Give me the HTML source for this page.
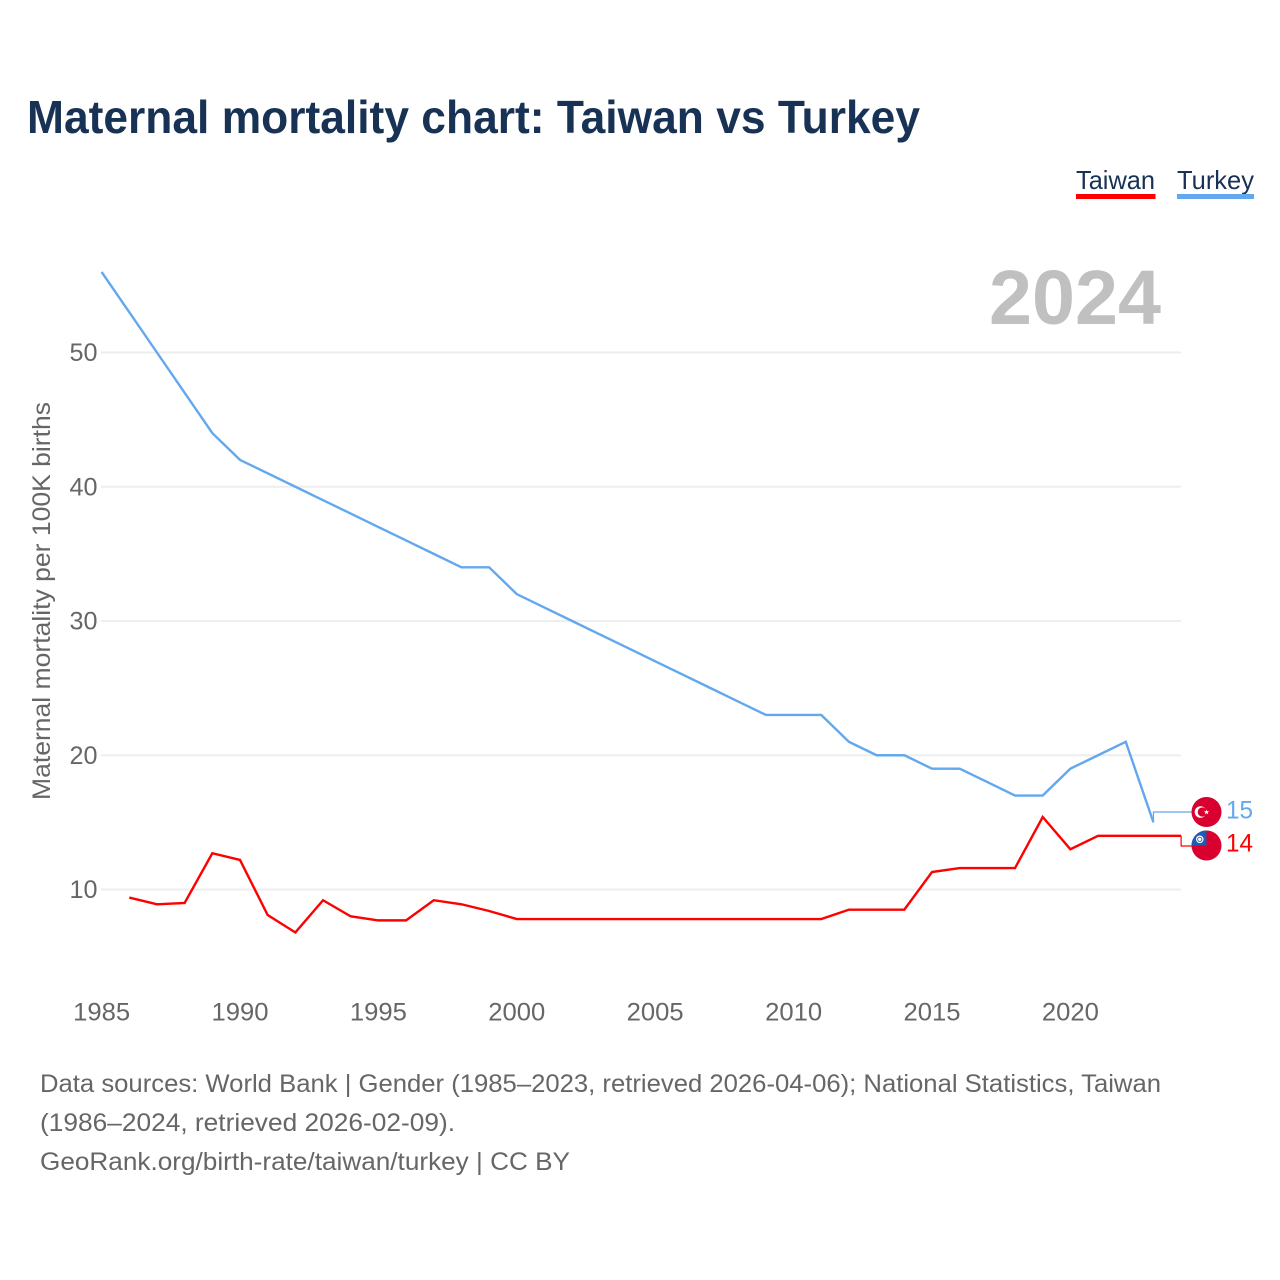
<!DOCTYPE html>
<html lang="en">
<head>
<meta charset="utf-8">
<title>Maternal mortality chart: Taiwan vs Turkey</title>
<style>
html,body{margin:0;padding:0;background:#fff;}
svg{display:block;font-family:"Liberation Sans",sans-serif;}
</style>
</head>
<body>
<svg id="chart" width="1280" height="1280" viewBox="0 0 1280 1280" xmlns="http://www.w3.org/2000/svg">
  <text x="27" y="133" font-size="46" font-weight="700" fill="#173254" textLength="893" lengthAdjust="spacingAndGlyphs">Maternal mortality chart: Taiwan vs Turkey</text>

  <g>
    <text x="1076" y="189" font-size="26" fill="#173254" textLength="79" lengthAdjust="spacingAndGlyphs">Taiwan</text>
    <rect x="1076" y="194" width="79.500" height="5" fill="#ff0000"/>
  </g>
  <g>
    <text x="1177" y="189" font-size="26" fill="#173254" textLength="77" lengthAdjust="spacingAndGlyphs">Turkey</text>
    <rect x="1177" y="194" width="77" height="5" fill="#63a8ee"/>
  </g>

  <text x="989" y="324" font-size="77" font-weight="700" fill="#c0c0c0" textLength="172" lengthAdjust="spacingAndGlyphs">2024</text>

  <g id="grid"></g>
  <g id="y-ticks"></g>
  <g id="x-ticks"></g>

  <text transform="translate(50,601) rotate(-90)" text-anchor="middle" font-size="25" fill="#666666" textLength="398" lengthAdjust="spacingAndGlyphs">Maternal mortality per 100K births</text>

  <g id="series"></g>

  <g>
    <circle cx="1206.500" cy="812" r="15" fill="#d9002f"/>
    <circle cx="1200.500" cy="812" r="5.800" fill="#ffffff"/>
    <circle cx="1202.300" cy="812" r="4.600" fill="#d9002f"/>
    <polygon points="1206.500,809.600 1207.200,811.300 1209.200,811.300 1207.600,812.500 1208.200,814.400 1206.500,813.300 1204.800,814.400 1205.400,812.500 1203.800,811.300 1205.800,811.300" fill="#ffffff"/>
  </g>
  <g>
    <circle cx="1206.500" cy="845.500" r="15" fill="#d9002f"/>
    <path d="M1206.500 845.500 H1191.500 A15 15 0 0 1 1206.500 830.500 Z" fill="#1c5cb5"/>
    <circle cx="1199.800" cy="839.300" r="3.800" fill="#ffffff"/>
    <circle cx="1199.800" cy="839.300" r="2.600" fill="#1c5cb5"/>
    <circle cx="1199.800" cy="839.300" r="1.700" fill="#ffffff"/>
  </g>
  <text id="end-label-turkey" x="1226" y="818.500" font-size="25" fill="#63a8ee" textLength="27" lengthAdjust="spacingAndGlyphs">15</text>
  <text id="end-label-taiwan" x="1226" y="851.500" font-size="25" fill="#ff0000" textLength="27" lengthAdjust="spacingAndGlyphs">14</text>

  <g font-size="25" fill="#666666">
    <text x="40" y="1092" textLength="1121" lengthAdjust="spacingAndGlyphs">Data sources: World Bank | Gender (1985–2023, retrieved 2026-04-06); National Statistics, Taiwan</text>
    <text x="40" y="1131" textLength="415" lengthAdjust="spacingAndGlyphs">(1986–2024, retrieved 2026-02-09).</text>
    <text x="40" y="1170" textLength="530" lengthAdjust="spacingAndGlyphs">GeoRank.org/birth-rate/taiwan/turkey | CC BY</text>
  </g>
</svg>
<script>
const xTickYears = [1985, 1990, 1995, 2000, 2005, 2010, 2015, 2020];
const yTickValues = [10, 20, 30, 40, 50];
const taiwanYears = [1986,1987,1988,1989,1990,1991,1992,1993,1994,1995,1996,1997,1998,1999,2000,2001,2002,2003,2004,2005,2006,2007,2008,2009,2010,2011,2012,2013,2014,2015,2016,2017,2018,2019,2020,2021,2022,2023,2024];
const taiwanValues = [9.4,8.9,9.0,12.7,12.2,8.1,6.8,9.2,8.0,7.7,7.7,9.2,8.9,8.4,7.8,7.8,7.8,7.8,7.8,7.8,7.8,7.8,7.8,7.8,7.8,7.8,8.5,8.5,8.5,11.3,11.6,11.6,11.6,15.4,13,14,14,14,14];
const turkeyYears = [1985,1986,1987,1988,1989,1990,1991,1992,1993,1994,1995,1996,1997,1998,1999,2000,2001,2002,2003,2004,2005,2006,2007,2008,2009,2010,2011,2012,2013,2014,2015,2016,2017,2018,2019,2020,2021,2022,2023];
const turkeyValues = [56,53,50,47,44,42,41,40,39,38,37,36,35,34,34,32,31,30,29,28,27,26,25,24,23,23,23,21,20,20,19,19,18,17,17,19,20,21,15];

const SVG_NS = 'http://www.w3.org/2000/svg';
const xScale = function (year) { return 101.6 + (year - 1985) * 27.68; };
const yScale = function (value) { return 889.5 - (value - 10) * 13.425; };

function make(tag, attrs, parent) {
  const el = document.createElementNS(SVG_NS, tag);
  Object.keys(attrs).forEach(function (k) { el.setAttribute(k, attrs[k]); });
  parent.appendChild(el);
  return el;
}

const grid = document.getElementById('grid');
const yTicks = document.getElementById('y-ticks');
yTickValues.forEach(function (v) {
  const line = make('line', { x1: 101, x2: 1181, y1: yScale(v), y2: yScale(v), stroke: '#eeeeee', 'stroke-width': 2 }, grid);
  
  
  const label = make('text', { x: 97.5, y: yScale(v) + 8.5, 'text-anchor': 'end', 'font-size': 25, fill: '#666666', textLength: 28, lengthAdjust: 'spacingAndGlyphs' }, yTicks);
  
  
  label.textContent = String(v);
});

const xTicks = document.getElementById('x-ticks');
xTickYears.forEach(function (y) {
  const label = make('text', { x: xScale(y), y: 1020.5, 'text-anchor': 'middle', 'font-size': 25, fill: '#666666', textLength: 57, lengthAdjust: 'spacingAndGlyphs' }, xTicks);
  
  
  label.textContent = String(y);
});

function pointsFor(years, values) {
  return years.map(function (y, i) { return xScale(y).toFixed(2) + ',' + yScale(values[i]).toFixed(2); });
}

const series = document.getElementById('series');
const turkeyPts = pointsFor(turkeyYears, turkeyValues);
const turkeyLine = make('polyline', { points: turkeyPts.join(' '), fill: 'none', stroke: '#63a8ee', 'stroke-width': 2.4, 'stroke-linejoin': 'miter' }, series);



const taiwanPts = pointsFor(taiwanYears, taiwanValues);
const taiwanLine = make('polyline', { points: taiwanPts.join(' '), fill: 'none', stroke: '#ff0000', 'stroke-width': 2.4, 'stroke-linejoin': 'miter' }, series);



const lastTurkeyX = xScale(turkeyYears[turkeyYears.length - 1]);
const lastTurkeyY = yScale(turkeyValues[turkeyValues.length - 1]);
const turkeyConnector = make('polyline', { points: lastTurkeyX + ',' + lastTurkeyY + ' ' + lastTurkeyX + ',812 1192,812', fill: 'none', stroke: '#63a8ee', 'stroke-width': 1.2 }, series);



const lastTaiwanX = xScale(taiwanYears[taiwanYears.length - 1]);
const lastTaiwanY = yScale(taiwanValues[taiwanValues.length - 1]);
const taiwanConnector = make('polyline', { points: lastTaiwanX + ',' + lastTaiwanY + ' ' + lastTaiwanX + ',846 1192,846', fill: 'none', stroke: '#ff0000', 'stroke-width': 1.2 }, series);



document.getElementById('end-label-turkey').textContent = String(turkeyValues[turkeyValues.length - 1]);
document.getElementById('end-label-taiwan').textContent = String(taiwanValues[taiwanValues.length - 1]);
</script>
</body>
</html>
